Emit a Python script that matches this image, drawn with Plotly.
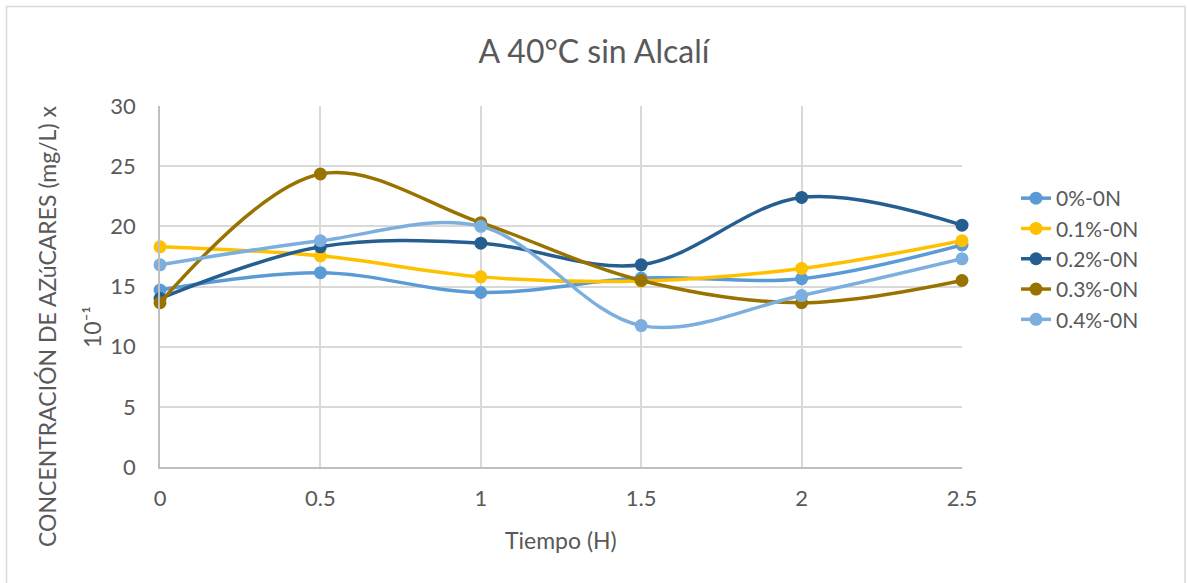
import plotly.graph_objects as go

# Sampling times (hours)
tiempo = [0, 0.5, 1, 1.5, 2, 2.5]

# Sugar concentration per treatment (mg/L x 10^-1)
serie_0 = [14.7, 16.15, 14.5, 15.7, 15.65, 18.45]
serie_01 = [18.3, 17.55, 15.8, 15.45, 16.5, 18.8]
serie_02 = [14.0, 18.3, 18.6, 16.8, 22.4, 20.1]
serie_03 = [13.65, 24.35, 20.3, 15.5, 13.65, 15.5]
serie_04 = [16.8, 18.8, 20.0, 11.75, 14.25, 17.3]

nombres = ["0%-0N", "0.1%-0N", "0.2%-0N", "0.3%-0N", "0.4%-0N"]
colores = ["#5B9BD5", "#FFC000", "#255E91", "#997300", "#7CAFDD"]
series = [serie_0, serie_01, serie_02, serie_03, serie_04]

FONT = "Lato, 'Open Sans', sans-serif"
GRIS = "#595959"

fig = go.Figure()
for nombre, color, valores in zip(nombres, colores, series):
    fig.add_trace(go.Scatter(
        x=tiempo, y=valores, name=nombre,
        mode="lines+markers",
        line=dict(color=color, width=3.5, shape="spline", smoothing=1),
        marker=dict(color=color, size=13),
        cliponaxis=False,
    ))

W, H = 1188, 583
L, R, T, B = 160, 226, 106, 116
pw, ph = W - L - R, H - T - B

def px_x(p):
    return (p - L) / pw

def px_y(p):
    return (H - B - p) / ph

fig.update_layout(
    width=W, height=H,
    margin=dict(l=L, r=R, t=T, b=B),
    paper_bgcolor="white", plot_bgcolor="white",
    font=dict(family=FONT, color=GRIS, size=22),
    title=dict(text="A 40°C sin Alcalí", x=0.5, xanchor="center",
               y=1 - 52 / H, yanchor="middle",
               font=dict(size=32, color=GRIS, family=FONT)),
    xaxis=dict(range=[0, 2.5], tickvals=tiempo,
               ticktext=["0", "0.5", "1", "1.5", "2", "2.5"],
               showgrid=True, gridcolor="#D9D9D9", gridwidth=1.5,
               showline=True, linecolor="#BFBFBF", linewidth=1.5,
               zeroline=False, ticks="outside", ticklen=11,
               tickcolor="rgba(0,0,0,0)", tickfont=dict(size=22, color=GRIS)),
    yaxis=dict(range=[0, 30], tickvals=[0, 5, 10, 15, 20, 25, 30],
               showgrid=True, gridcolor="#D9D9D9", gridwidth=1.5,
               showline=True, linecolor="#BFBFBF", linewidth=1.5,
               zeroline=False, ticks="outside", ticklen=18,
               tickcolor="rgba(0,0,0,0)", tickfont=dict(size=22, color=GRIS)),
    legend=dict(x=px_x(1016), y=px_y(178), xanchor="left", yanchor="top",
                font=dict(size=21, color=GRIS), bgcolor="rgba(0,0,0,0)",
                tracegroupgap=0),
    showlegend=True,
)

# Axis titles
fig.add_annotation(text="Tiempo (H)", xref="paper", yref="paper",
                   x=px_x(561), y=px_y(540), showarrow=False,
                   xanchor="center", yanchor="middle",
                   font=dict(size=23, color=GRIS, family=FONT))
fig.add_annotation(text="CONCENTRACIÓN DE AZúCARES (mg/L) x", xref="paper", yref="paper",
                   x=px_x(47), y=px_y(327), showarrow=False, textangle=-90,
                   xanchor="center", yanchor="middle",
                   font=dict(size=23, color=GRIS, family=FONT))
fig.add_annotation(text="10⁻¹", xref="paper", yref="paper",
                   x=px_x(92), y=px_y(327), showarrow=False, textangle=-90,
                   xanchor="center", yanchor="middle",
                   font=dict(size=23, color=GRIS, family=FONT))

# Chart border
fig.add_shape(type="rect", xref="paper", yref="paper",
              x0=px_x(6.5), x1=px_x(1185), y0=px_y(590), y1=px_y(6.5),
              line=dict(color="#D9D9D9", width=1.5), fillcolor="rgba(0,0,0,0)",
              layer="below")

fig.write_html("out.html")
